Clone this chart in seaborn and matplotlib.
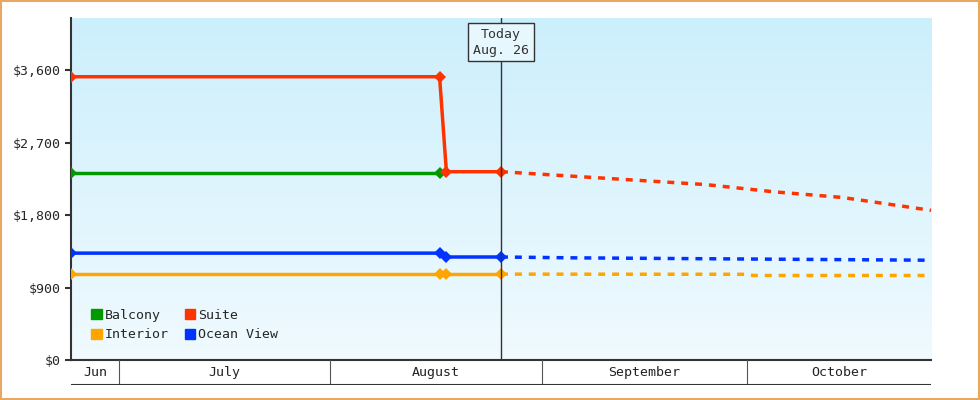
import numpy as np
import pandas as pd
import matplotlib
matplotlib.use("Agg")
import matplotlib.pyplot as plt
import seaborn as sns

sns.set_style("white")
plt.rcParams['font.family'] = ['DejaVu Sans Mono']

# ---- data ----
balcony_dates = ["2024-06-24", "2024-08-17"]
balcony_vals = [2320, 2320]
suite_dates = ["2024-06-24", "2024-08-17", "2024-08-18", "2024-08-26"]
suite_vals = [3520, 3520, 2340, 2340]
ocean_dates = ["2024-06-24", "2024-08-17", "2024-08-18", "2024-08-26"]
ocean_vals = [1328, 1328, 1280, 1280]
interior_dates = ["2024-06-24", "2024-08-17", "2024-08-18", "2024-08-26"]
interior_vals = [1067, 1067, 1067, 1067]

suite_fc_dates = ["2024-08-26", "2024-09-10", "2024-09-25", "2024-10-05", "2024-10-15", "2024-10-28"]
suite_fc_vals = [2340, 2260, 2180, 2090, 2020, 1860]
ocean_fc_dates = ["2024-08-26", "2024-09-05", "2024-10-01", "2024-10-28"]
ocean_fc_vals = [1280, 1270, 1255, 1240]
interior_fc_dates = ["2024-08-26", "2024-10-01", "2024-10-02", "2024-10-28"]
interior_fc_vals = [1067, 1065, 1050, 1050]

month_labels = ["Jun", "July", "August", "September", "October"]
month_starts = ["2024-06-24", "2024-07-01", "2024-08-01", "2024-09-01", "2024-10-01"]
x_start, x_end, today = "2024-06-24", "2024-10-28", "2024-08-26"
yticks = [0, 900, 1800, 2700, 3600]

colors = {"Balcony": "#009900", "Suite": "#ff3300", "Interior": "#ffa500", "Ocean View": "#0033ff"}

base = pd.Timestamp("2024-06-01")
def d(s):
    return [(pd.Timestamp(v) - base).days for v in s] if isinstance(s, list) else (pd.Timestamp(s) - base).days

rows = []
for name, ds, vs in [("Balcony", balcony_dates, balcony_vals), ("Suite", suite_dates, suite_vals),
                     ("Ocean View", ocean_dates, ocean_vals), ("Interior", interior_dates, interior_vals)]:
    for x, y in zip(d(ds), vs):
        rows.append((name, x, y))
df = pd.DataFrame(rows, columns=["cabin", "day", "price"])
rows = []
for name, ds, vs in [("Suite", suite_fc_dates, suite_fc_vals), ("Ocean View", ocean_fc_dates, ocean_fc_vals),
                     ("Interior", interior_fc_dates, interior_fc_vals)]:
    for x, y in zip(d(ds), vs):
        rows.append((name, x, y))
fc = pd.DataFrame(rows, columns=["cabin", "day", "price"])

fig = plt.figure(figsize=(9.8, 4.0), dpi=100)
fig.patch.set_facecolor("white")
fig.patches.append(plt.Rectangle((0.001, 0.002), 0.998, 0.996, transform=fig.transFigure,
                                 fill=False, edgecolor="#e8a860", linewidth=1.5))
ax = fig.add_axes([71/980, 40/400, 860/980, 342/400])
x0, x1 = d(x_start), d(x_end)
ymax = 4250
grad = np.linspace(1, 0, 256).reshape(-1, 1)
from matplotlib.colors import LinearSegmentedColormap
cmap = LinearSegmentedColormap.from_list("bg", ["#f0faff", "#cceffc"])
ax.imshow(grad, extent=[x0, x1, 0, ymax], aspect="auto", cmap=cmap, origin="upper", zorder=0)

for name in ["Balcony", "Interior", "Ocean View", "Suite"]:
    sub = df[df.cabin == name]
    sns.lineplot(data=sub, x="day", y="price", ax=ax, color=colors[name], lw=2.5,
                 marker="D", markersize=6, markeredgewidth=0, zorder=3)
for name in ["Interior", "Ocean View", "Suite"]:
    sub = fc[fc.cabin == name]
    sns.lineplot(data=sub, x="day", y="price", ax=ax, color=colors[name], lw=2.5,
                 linestyle=(0, (2, 2)), zorder=3)

ax.axvline(d(today), color="#333333", lw=1, zorder=4)
ax.text(d(today), ymax - 120, "Today\nAug. 26", ha="center", va="top", fontsize=9.5,
        color="#333333", zorder=5, linespacing=1.3,
        bbox=dict(boxstyle="square,pad=0.35", fc="#e6f7fd", ec="#333333", lw=1))

ax.set_xlim(x0, x1)
ax.set_ylim(0, ymax)
ax.set_yticks(yticks)
ax.set_yticklabels([f"${v:,}" for v in yticks], fontsize=9.5)
ax.set_xticks([])
ax.set_xlabel(""); ax.set_ylabel("")
ax.tick_params(axis="y", length=4, width=1.5, color="#333333", left=True)
for s in ["top", "right"]:
    ax.spines[s].set_visible(False)
for s in ["left", "bottom"]:
    ax.spines[s].set_color("#333333"); ax.spines[s].set_linewidth(1.5)

from matplotlib.patches import Patch
handles = [Patch(color=colors[n]) for n in ["Balcony", "Interior", "Suite", "Ocean View"]]
ax.legend(handles, ["Balcony", "Interior", "Suite", "Ocean View"], ncol=2, loc="lower left",
          bbox_to_anchor=(0.01, 0.02), frameon=False, fontsize=9.5, handlelength=0.8,
          handleheight=0.8, handletextpad=0.2, columnspacing=1.2, labelspacing=0.5)

# month band
mx = fig.add_axes([71/980, 15/400, 860/980, 25/400])
mx.set_xlim(x0, x1); mx.set_ylim(0, 1)
mx.axis("off")
starts = d(month_starts) + [x1]
for i, lab in enumerate(month_labels):
    if i > 0:
        mx.axvline(starts[i], color="#555555", lw=0.8)
    mx.text((starts[i] + starts[i+1]) / 2, 0.5, lab, ha="center", va="center", fontsize=9.5, color="#222222")
mx.axhline(0, color="#333333", lw=1.5)

fig.savefig("out.png", dpi=100)
